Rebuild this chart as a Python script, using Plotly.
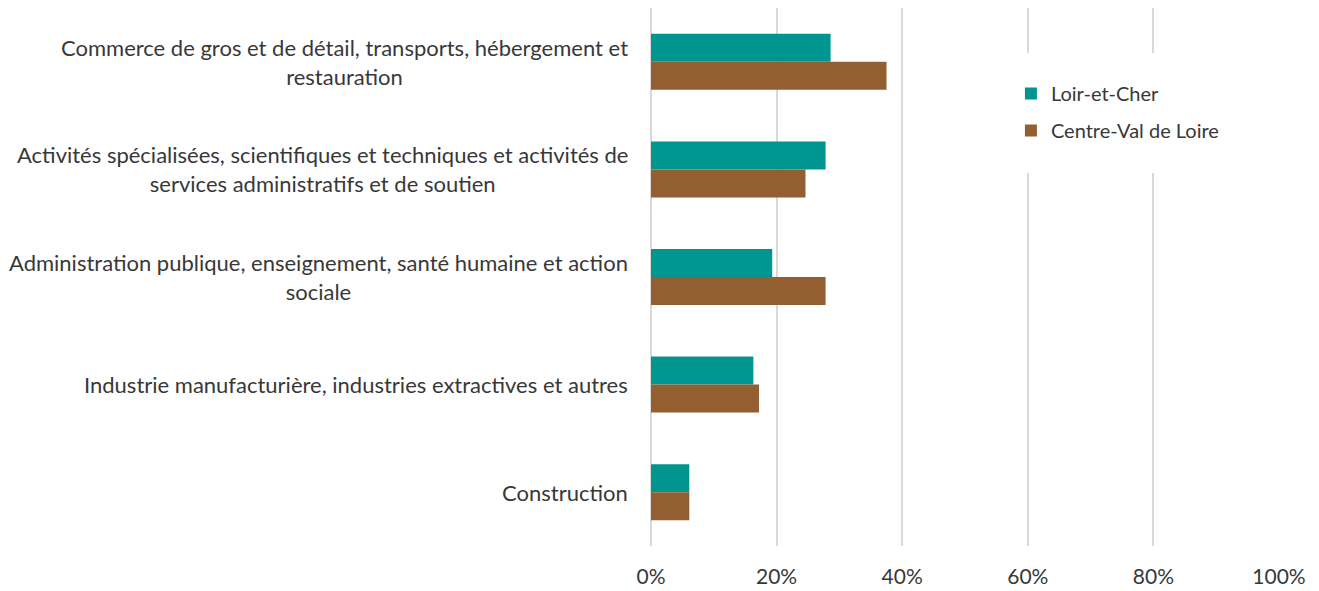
import plotly.graph_objects as go

categories = [
    "Commerce de gros et de détail, transports, hébergement et<br>restauration",
    "Activités spécialisées, scientifiques et techniques et activités de<br>services administratifs et de soutien",
    "Administration publique, enseignement, santé humaine et action<br>sociale",
    "Industrie manufacturière, industries extractives et autres",
    "Construction",
]
series_names = ["Loir-et-Cher", "Centre-Val de Loire"]
loir_et_cher = [0.286, 0.278, 0.193, 0.163, 0.061]
centre_val_de_loire = [0.375, 0.246, 0.278, 0.172, 0.061]
x_ticks = [0, 0.2, 0.4, 0.6, 0.8, 1.0]

colors = ["#00958F", "#935F30"]
FONT = "Lato"
TXT = "#383838"

fig = go.Figure()
for name, vals, col, grp in zip(series_names, [loir_et_cher, centre_val_de_loire], colors, ["a", "b"]):
    fig.add_trace(go.Bar(
        y=categories, x=vals, name=name, orientation="h",
        marker=dict(color=col, line=dict(width=0)),
        legendgroup=grp,
    ))

W, H = 1319, 591
ml, mr, mt, mb = 650.5, 39.5, 8, 45
pw = W - ml - mr
ph = H - mt - mb

for cat in categories:
    fig.add_annotation(
        x=(629 - ml) / pw, xref="paper", y=cat, yref="y",
        text=cat, showarrow=False, xanchor="right", align="center",
        font=dict(family=FONT, size=22, color=TXT),
    )

# white background behind legend (covers gridlines)
fig.add_shape(type="rect", xref="paper", yref="paper",
              x0=(1015 - ml) / pw, x1=(1240 - ml) / pw,
              y0=1 - (173 - mt) / ph, y1=1 - (53 - mt) / ph,
              fillcolor="white", line=dict(width=0), layer="above")

fig.update_layout(
    width=W, height=H,
    margin=dict(l=ml, r=mr, t=mt, b=mb, pad=0, autoexpand=False),
    paper_bgcolor="white", plot_bgcolor="white",
    barmode="group", bargap=0.48, bargroupgap=0,
    font=dict(family=FONT, size=20, color=TXT),
    showlegend=True,
    legend=dict(
        x=(1011 - ml) / pw, xanchor="left",
        y=1 - (74 - mt) / ph, yanchor="top",
        bgcolor="rgba(0,0,0,0)", traceorder="grouped", tracegroupgap=8,
        font=dict(family=FONT, size=20, color=TXT),
    ),
    xaxis=dict(
        range=[0, 1], tickvals=x_ticks, tickformat=".0%",
        showgrid=True, gridcolor="#D9D9D9", gridwidth=2,
        zeroline=True, zerolinecolor="#D9D9D9", zerolinewidth=2,
        showline=False, ticks="", automargin=False,
        tickfont=dict(family=FONT, size=21, color=TXT),
        ticklabelstandoff=16,
    ),
    yaxis=dict(
        autorange="reversed", showticklabels=False, showgrid=False,
        zeroline=False, showline=False, ticks="", automargin=False,
    ),
)

fig.write_html(
    "out.html",
    config={"displayModeBar": False},
    post_script="document.body.style.margin='0';document.body.style.overflow='hidden';",
)
